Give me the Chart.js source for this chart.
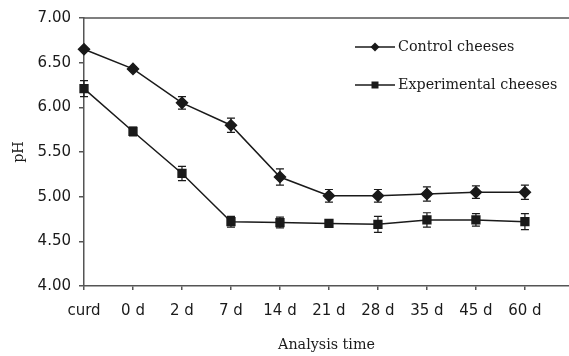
<!DOCTYPE html>
<html>
<head>
<meta charset="utf-8">
<script src="https://cdn.jsdelivr.net/npm/chart.js@4/dist/chart.umd.min.js"></script>
<style>
  html, body { margin: 0; padding: 0; background: #fff; }
  #wrap { width: 569px; height: 356px; }
</style>
</head>
<body>
<div id="wrap"><canvas id="chart"></canvas></div>
<script>
// dane
const timeLabels = ['curd', '0 d', '2 d', '7 d', '14 d', '21 d', '28 d', '35 d', '45 d', '60 d'];
const controlPH = [6.65, 6.43, 6.05, 5.80, 5.22, 5.01, 5.01, 5.03, 5.05, 5.05];
const controlSD = [0.01, 0.02, 0.07, 0.08, 0.09, 0.07, 0.07, 0.08, 0.07, 0.08];
const experimentalPH = [6.21, 5.73, 5.26, 4.72, 4.71, 4.70, 4.69, 4.74, 4.74, 4.72];
const experimentalSD = [0.09, 0.05, 0.08, 0.06, 0.06, 0.02, 0.09, 0.08, 0.07, 0.09];
const yTicks = [4.00, 4.50, 5.00, 5.50, 6.00, 6.50, 7.00];

const ink = '#1a1a1a';
const axisColor = '#555';
const sansFont = { family: 'DejaVu Sans', size: 15 };
const serifFont = { family: 'DejaVu Serif', size: 14.3 };

function toPoints(values) {
  return values.map((v, i) => ({ x: i, y: v }));
}

/**
 * Słupki błędów + górna ramka + legenda w obszarze wykresu
 */
const extrasPlugin = {
  id: 'extras',
  afterDatasetsDraw(chart) {
    const { ctx, chartArea, scales } = chart;
    const sds = [controlSD, experimentalSD];
    ctx.save();
    ctx.strokeStyle = ink;
    ctx.lineWidth = 1.2;
    chart.data.datasets.forEach((ds, di) => {
      ds.data.forEach((p, i) => {
        const x = scales.x.getPixelForValue(p.x);
        const y1 = scales.y.getPixelForValue(p.y + sds[di][i]);
        const y2 = scales.y.getPixelForValue(p.y - sds[di][i]);
        ctx.beginPath();
        ctx.moveTo(x, y1); ctx.lineTo(x, y2);
        ctx.moveTo(x - 4, y1); ctx.lineTo(x + 4, y1);
        ctx.moveTo(x - 4, y2); ctx.lineTo(x + 4, y2);
        ctx.stroke();
      });
    });

    // górna linia ramki
    ctx.strokeStyle = axisColor;
    ctx.lineWidth = 1.5;
    ctx.beginPath();
    ctx.moveTo(chartArea.left, chartArea.top);
    ctx.lineTo(chartArea.right, chartArea.top);
    ctx.stroke();

    // legenda
    const legendX = 355, legendRows = [47, 85];
    ctx.font = `${serifFont.size}px ${serifFont.family}`;
    ctx.textBaseline = 'middle';
    ctx.fillStyle = ink;
    chart.data.datasets.forEach((ds, di) => {
      const y = legendRows[di];
      ctx.strokeStyle = ink;
      ctx.lineWidth = 1.5;
      ctx.beginPath();
      ctx.moveTo(legendX, y);
      ctx.lineTo(legendX + 40, y);
      ctx.stroke();
      ctx.beginPath();
      if (di === 0) {
        ctx.moveTo(legendX + 20, y - 4.5);
        ctx.lineTo(legendX + 24.5, y);
        ctx.lineTo(legendX + 20, y + 4.5);
        ctx.lineTo(legendX + 15.5, y);
        ctx.closePath();
      } else {
        ctx.rect(legendX + 16.5, y - 3.5, 7, 7);
      }
      ctx.fill();
      ctx.fillText(ds.label, legendX + 43, y);
    });
    ctx.restore();
  }
};

new Chart(document.getElementById('chart'), {
  type: 'line',
  data: {
    datasets: [
      {
        label: 'Control cheeses',
        data: toPoints(controlPH),
        borderColor: ink,
        backgroundColor: ink,
        borderWidth: 1.5,
        pointStyle: 'rectRot',
        pointRadius: 5.5,
        pointHoverRadius: 5.5,
        clip: false
      },
      {
        label: 'Experimental cheeses',
        data: toPoints(experimentalPH),
        borderColor: ink,
        backgroundColor: ink,
        borderWidth: 1.5,
        pointStyle: 'rect',
        pointRadius: 5.5,
        pointHoverRadius: 5.5,
        clip: false
      }
    ]
  },
  options: {
    responsive: true,
    maintainAspectRatio: false,
    animation: false,
    layout: { autoPadding: false, padding: { top: 18, right: 0, left: 0, bottom: 0 } },
    plugins: {
      legend: { display: false },
      tooltip: { enabled: false }
    },
    scales: {
      x: {
        type: 'linear',
        min: 0,
        max: 9.9,
        afterBuildTicks: scale => {
          scale.ticks = timeLabels.map((_, i) => ({ value: i }));
        },
        afterFit: scale => {
          scale.height = 70;
          scale.paddingLeft = 0;
          scale.paddingRight = 0;
        },
        grid: {
          drawOnChartArea: false,
          drawTicks: true,
          tickLength: 4,
          color: axisColor,
          lineWidth: 1.5
        },
        border: { color: axisColor, width: 1.5 },
        ticks: {
          color: ink,
          font: sansFont,
          padding: 12,
          maxRotation: 0,
          autoSkip: false,
          callback: value => timeLabels[value]
        },
        title: {
          display: true,
          text: 'Analysis time',
          color: ink,
          font: serifFont,
          padding: { top: 0, bottom: 2 }
        }
      },
      y: {
        min: 4,
        max: 7,
        afterBuildTicks: scale => {
          scale.ticks = yTicks.map(v => ({ value: v }));
        },
        afterFit: scale => {
          scale.width = 84;
          scale.paddingTop = 0;
          scale.paddingBottom = 0;
        },
        grid: {
          drawOnChartArea: false,
          drawTicks: true,
          tickLength: 5,
          color: axisColor,
          lineWidth: 1.5
        },
        border: { color: axisColor, width: 1.5 },
        ticks: {
          color: ink,
          font: sansFont,
          padding: 8,
          callback: value => value.toFixed(2)
        },
        title: {
          display: true,
          text: 'pH',
          color: ink,
          font: serifFont,
          padding: { top: 11, bottom: 0 }
        }
      }
    }
  },
  plugins: [extrasPlugin]
});
</script>
</body>
</html>
